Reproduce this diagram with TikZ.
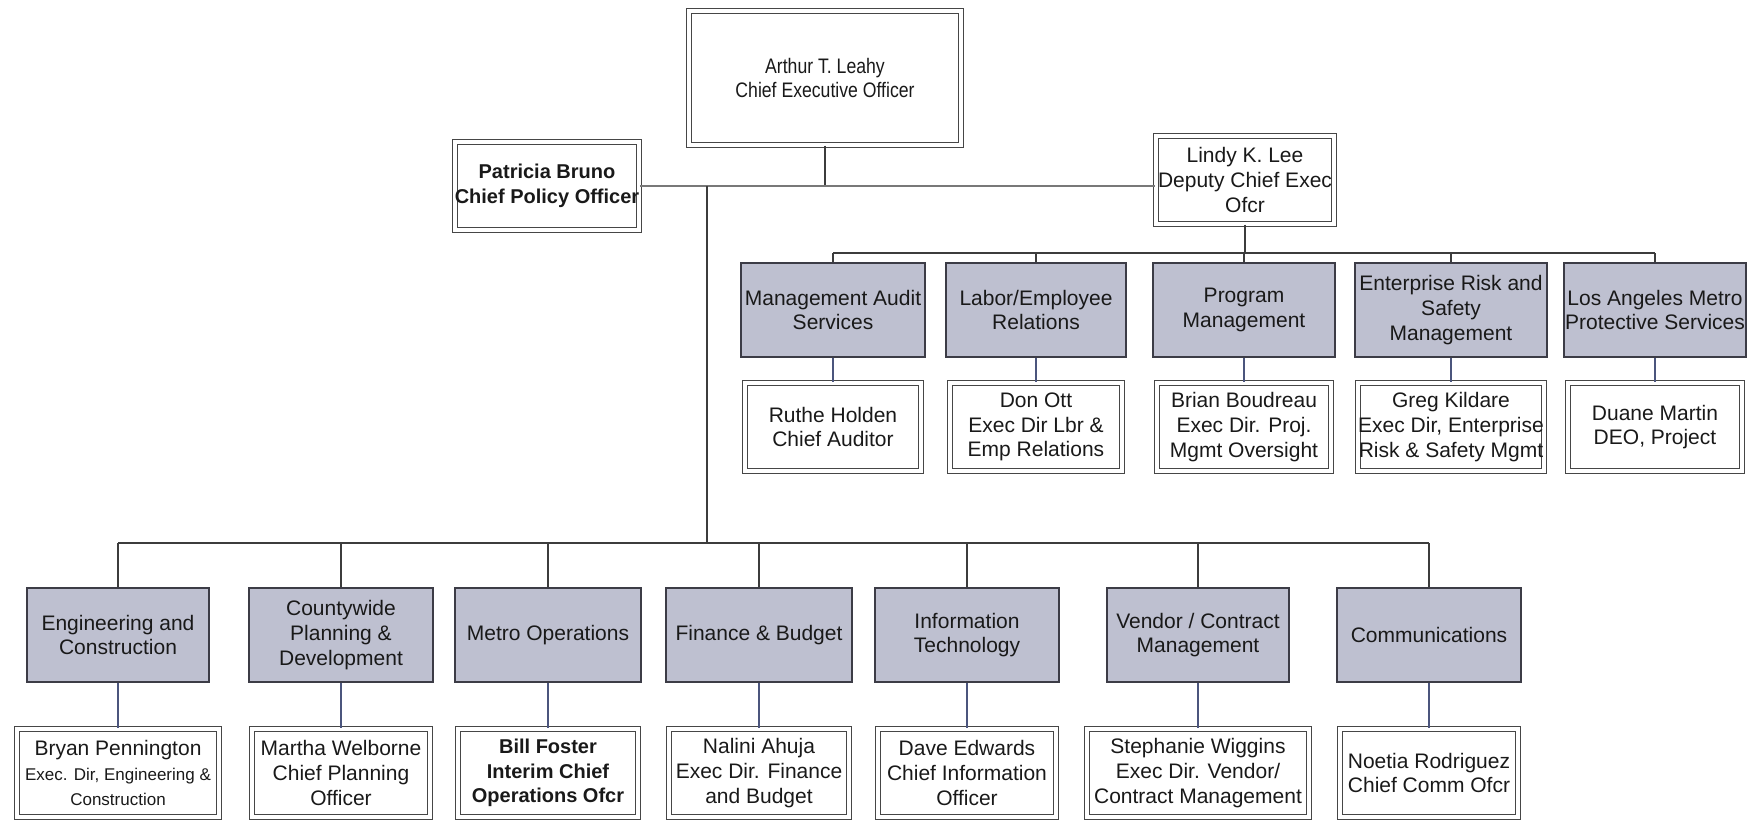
\documentclass[tikz,border=0pt]{standalone}
\usepackage{fontspec}
\setmainfont{Liberation Sans}
\newfontfamily\narrowfont[FakeStretch=0.84]{Liberation Sans}
\begin{document}
\begin{tikzpicture}[x=0.5pt,y=-0.5pt,
  linegray/.style={draw={rgb,255:red,70;green,70;blue,70}},
  base/.style={inner sep=0pt, align=center, text={rgb,255:red,25;green,25;blue,25},
    font=\fontsize{10.5}{12.3}\selectfont},
  unit/.style={base, fill={rgb,255:red,190;green,192;blue,208},
    draw={rgb,255:red,60;green,60;blue,70}, line width=0.8pt,
    minimum height=47pt},
  person/.style={base, draw={rgb,255:red,70;green,70;blue,70}, line width=0.6pt,
    double=white, double distance=2pt, minimum height=44pt},
  link/.style={draw={rgb,255:red,60;green,60;blue,60}, line width=0.7pt},
  stem/.style={draw={rgb,255:red,75;green,85;blue,125}, line width=0.7pt}
]
\useasboundingbox (0,0) rectangle (1753,821);

% --- executive level ---
\node[person, minimum width=136pt, minimum height=67pt, font=\narrowfont\fontsize{10.5}{12.3}\selectfont]
  (ceo) at (825,78) {Arthur T. Leahy\\Chief Executive Officer};
\node[person, minimum width=90pt, minimum height=44pt, font=\bfseries\fontsize{10}{12.3}\selectfont]
  (pat) at (547,186) {Patricia Bruno\\Chief Policy Officer};
\node[person, minimum width=89pt, minimum height=44pt]
  (lee) at (1245,180) {Lindy K. Lee\\Deputy Chief Exec\\Ofcr};

\coordinate (tj) at (707,186);
\coordinate (bj) at (707,543);
\coordinate (rj) at (1244,253);

% --- units reporting to the deputy ---
\node[unit, minimum width=92pt] (uMA) at (833,310) {Management Audit\\Services};
\node[unit, minimum width=90pt] (uLE) at (1036,310) {Labor/Employee\\Relations};
\node[unit, minimum width=91pt] (uPM) at (1244,310) {Program\\Management};
\node[unit, minimum width=96pt] (uER) at (1451,310) {Enterprise Risk and\\Safety\\Management};
\node[unit, minimum width=91pt] (uLA) at (1655,310) {Los Angeles Metro\\Protective Services};

\node[person, minimum width=88pt] (pMA) at (833,427) {Ruthe Holden\\Chief Auditor};
\node[person, minimum width=86pt] (pLE) at (1036,427) {Don Ott\\Exec Dir Lbr \&\\Emp Relations};
\node[person, minimum width=87pt] (pPM) at (1244,427) {Brian Boudreau\\Exec Dir. Proj.\\Mgmt Oversight};
\node[person, minimum width=92pt] (pER) at (1451,427) {Greg Kildare\\Exec Dir, Enterprise\\Risk \& Safety Mgmt};
\node[person, minimum width=87pt] (pLA) at (1655,427) {Duane Martin\\DEO, Project};

% --- units reporting to the chief executive ---
\node[unit, minimum width=91pt] (uEC) at (118,635) {Engineering and\\Construction};
\node[unit, minimum width=92pt] (uCP) at (341,635) {Countywide\\Planning \&\\Development};
\node[unit, minimum width=93pt] (uMO) at (548,635) {Metro Operations};
\node[unit, minimum width=93pt] (uFB) at (759,635) {Finance \& Budget};
\node[unit, minimum width=92pt] (uIT) at (967,635) {Information\\Technology};
\node[unit, minimum width=91pt] (uVC) at (1198,635) {Vendor / Contract\\Management};
\node[unit, minimum width=92pt] (uCO) at (1429,635) {Communications};

\node[person, minimum width=101pt] (pEC) at (118,773)
  {Bryan Pennington\\{\fontsize{8.5}{12.3}\selectfont Exec. Dir, Engineering \&}\\{\fontsize{8.5}{12.3}\selectfont Construction}};
\node[person, minimum width=89pt] (pCP) at (341,773) {Martha Welborne\\Chief Planning\\Officer};
\node[person, minimum width=90pt, font=\bfseries\fontsize{10}{12.3}\selectfont] (pMO) at (548,773) {Bill Foster\\Interim Chief\\Operations Ofcr};
\node[person, minimum width=90pt] (pFB) at (759,773) {Nalini Ahuja\\Exec Dir. Finance\\and Budget};
\node[person, minimum width=89pt] (pIT) at (967,773) {Dave Edwards\\Chief Information\\Officer};
\node[person, minimum width=111pt] (pVC) at (1198,773) {Stephanie Wiggins\\Exec Dir. Vendor/\\Contract Management};
\node[person, minimum width=89pt] (pCO) at (1429,773) {Noetia Rodriguez\\Chief Comm Ofcr};

% --- connectors: executive level ---
\draw[link] (ceo.south) -- (ceo.south |- pat.east);
\draw[link, line width=1.1pt, draw={rgb,255:red,120;green,120;blue,120}] (pat.east) -- (pat.east -| lee.west);
\draw[link] (tj) -- (bj);
\draw[link] (lee.south) -- (lee.south |- rj);

% --- connectors: deputy's units ---
\draw[link] (uMA.north |- rj) -- (uLA.north |- rj);
\foreach \u in {MA,LE,PM,ER,LA}{
  \draw[link] (u\u.north) -- (u\u.north |- rj);
  \draw[stem] (u\u.south) -- (p\u.north);
}

% --- connectors: chief executive's units ---
\draw[link] (uEC.north |- bj) -- (uCO.north |- bj);
\foreach \u in {EC,CP,MO,FB,IT,VC,CO}{
  \draw[link] (u\u.north) -- (u\u.north |- bj);
  \draw[stem] (u\u.south) -- (p\u.north);
}
\end{tikzpicture}
\end{document}
